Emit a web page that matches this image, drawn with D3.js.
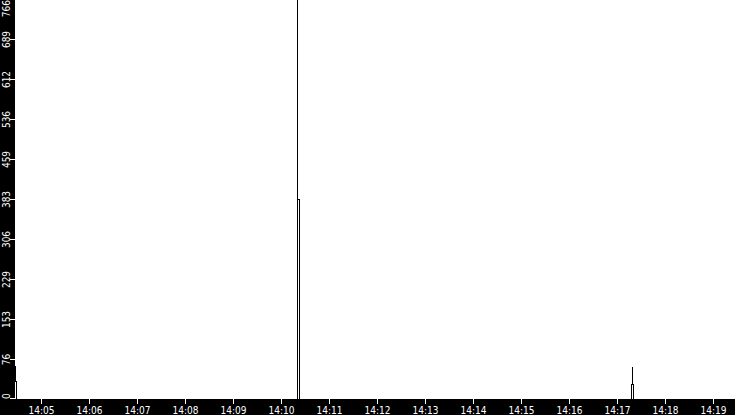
<!DOCTYPE html>
<html>
<head>
<meta charset="utf-8">
<script src="https://cdn.jsdelivr.net/npm/d3@7"></script>
<style>
  html, body { margin: 0; padding: 0; background: #fff; }
  svg { display: block; }
  text { font-family: "DejaVu Sans Condensed", "DejaVu Sans", sans-serif; font-stretch: condensed; font-size: 10px; fill: #fff; }
</style>
</head>
<body>
<svg id="chart" width="735" height="415"></svg>
<script>
// sample times (hh:mm:ss, fractions allowed) and the values
var sampleTimes  = ["14:04:28", "14:04:29", "14:04:30",
                    "14:10:21.1", "14:10:21.2", "14:10:23.6",
                    "14:17:18.6", "14:17:19.9", "14:17:20.0", "14:17:21.1",
                    "14:19:28"];
var sampleValues = [64, 35, 0,
                    766, 383, 0,
                    29, 61, 29, 0,
                    0];

var yTickLabels = [0, 76, 153, 229, 306, 383, 459, 536, 612, 689, 766];
var xTickLabels = ["14:05", "14:06", "14:07", "14:08", "14:09", "14:10", "14:11", "14:12",
                   "14:13", "14:14", "14:15", "14:16", "14:17", "14:18", "14:19"];
var windowStart = "14:04:28", windowEnd = "14:19:28";
var yMax = 766;

function toDate(s) {
    var p = s.split(":");
    var sec = p.length > 2 ? +p[2] : 0;
    return new Date(2000, 0, 1, +p[0], +p[1], 0, Math.round(sec * 1000));
}

var width = 735, height = 415;
var leftW = 15, bottomY = 399;

var svg = d3.select("#chart");

var x = d3.scaleTime()
        .domain([toDate(windowStart), toDate(windowEnd)])
        .range([leftW, width]);
var y = d3.scaleLinear()
        .domain([0, yMax])
        .range([bottomY + 0.5, 0]);

var data = sampleTimes.map(function (t, i) {
    return {t: toDate(t), v: sampleValues[i]};
});

var line = d3.line()
        .curve(d3.curveStepAfter)
        .x(function (d) { return x(d.t); })
        .y(function (d) { return y(d.v); });

svg.append("rect")
        .attr("width", width)
        .attr("height", height)
        .attr("fill", "#fff");

svg.append("path")
        .datum(data)
        .attr("fill", "none")
        .attr("stroke", "#000")
        .attr("stroke-width", 1)
        .attr("shape-rendering", "crispEdges")
        .attr("d", line);

// black frame strips
svg.append("rect")
        .attr("x", 0).attr("y", 0)
        .attr("width", leftW).attr("height", height)
        .attr("fill", "#000");
svg.append("rect")
        .attr("x", 0).attr("y", bottomY)
        .attr("width", width).attr("height", height - bottomY)
        .attr("fill", "#000");

// y axis: white ticks + rotated labels kept inside the strip
var yAxis = svg.append("g").attr("class", "yaxis");
yTickLabels.forEach(function (v) {
    var ty = Math.round(y(v)) - 0.5;
    if (ty > bottomY - 0.5) ty = bottomY - 0.5;
    yAxis.append("line")
            .attr("x1", 10).attr("x2", leftW)
            .attr("y1", ty).attr("y2", ty)
            .attr("stroke", "#fff")
            .attr("stroke-width", 1);
    var lbl = yAxis.append("text")
            .attr("text-anchor", "middle")
            .text(v);
    var w = lbl.node().getComputedTextLength();
    var cy = Math.min(Math.max(ty, w / 2), bottomY - w / 2);
    lbl.attr("transform", "translate(10," + cy + ") rotate(-90)");
});

// x axis
var xAxis = svg.append("g").attr("class", "xaxis");
xTickLabels.forEach(function (s) {
    var tx = Math.round(x(toDate(s))) + 0.5;
    xAxis.append("line")
            .attr("x1", tx).attr("x2", tx)
            .attr("y1", bottomY).attr("y2", bottomY + 5)
            .attr("stroke", "#fff")
            .attr("stroke-width", 1);
    xAxis.append("text")
            .attr("x", tx)
            .attr("y", 414)
            .attr("text-anchor", "middle")
            .text(s);
});
</script>
</body>
</html>
